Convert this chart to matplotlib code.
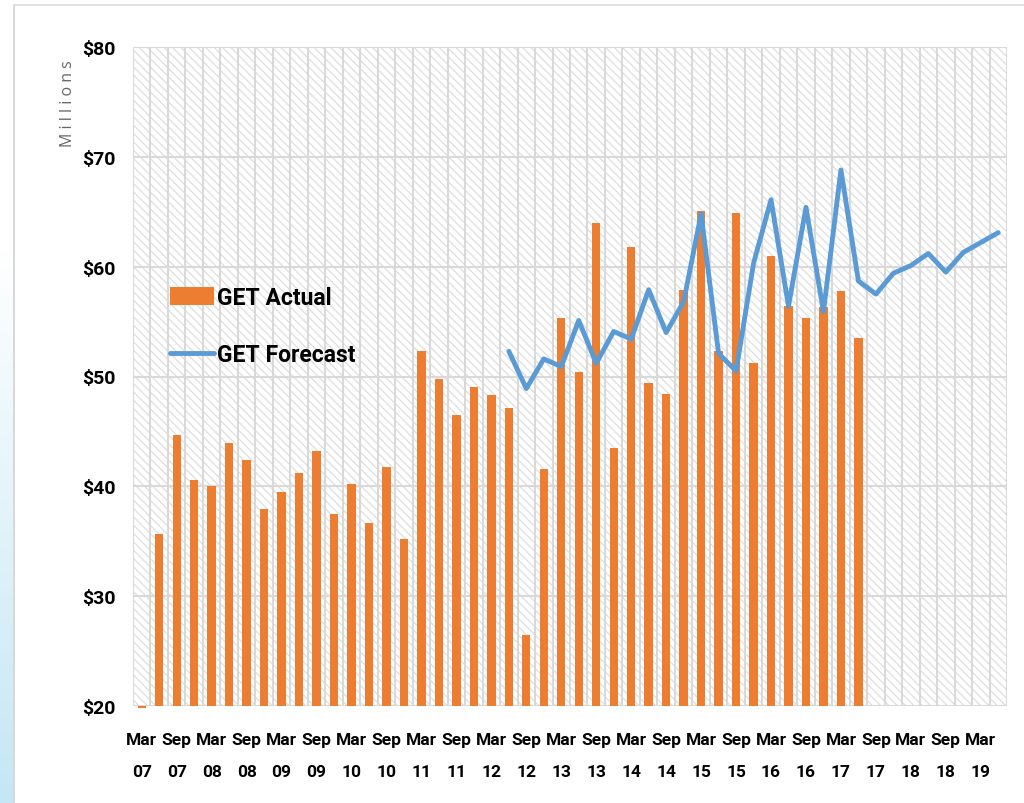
import numpy as np
import matplotlib
matplotlib.use("Agg")
import matplotlib.pyplot as plt
from matplotlib.patches import Rectangle
from matplotlib.lines import Line2D
from matplotlib import font_manager

# ---------------- data ----------------
quarters = ["Mar 07", "Jun 07", "Sep 07", "Dec 07", "Mar 08", "Jun 08", "Sep 08", "Dec 08",
            "Mar 09", "Jun 09", "Sep 09", "Dec 09", "Mar 10", "Jun 10", "Sep 10", "Dec 10",
            "Mar 11", "Jun 11", "Sep 11", "Dec 11", "Mar 12", "Jun 12", "Sep 12", "Dec 12",
            "Mar 13", "Jun 13", "Sep 13", "Dec 13", "Mar 14", "Jun 14", "Sep 14", "Dec 14",
            "Mar 15", "Jun 15", "Sep 15", "Dec 15", "Mar 16", "Jun 16", "Sep 16", "Dec 16",
            "Mar 17", "Jun 17", "Sep 17", "Dec 17", "Mar 18", "Jun 18", "Sep 18", "Dec 18",
            "Mar 19", "Jun 19"]

get_actual = [19.8, 35.7, 44.7, 40.6, 40.0, 43.9, 42.4, 37.9, 39.5, 41.2,
              43.2, 37.5, 40.2, 36.7, 41.8, 35.2, 52.3, 49.8, 46.5, 49.0,
              48.3, 47.1, 26.5, 41.6, 55.3, 50.4, 64.0, 43.5, 61.8, 49.4,
              48.4, 57.9, 65.1, 52.3, 64.9, 51.2, 61.0, 56.4, 55.3, 56.3,
              57.8, 53.5]

forecast_start = 21  # index of "Jun 12"
get_forecast = [52.3, 48.9, 51.6, 50.9, 55.1, 51.2, 54.1, 53.4, 57.9, 54.0,
                56.8, 64.8, 52.1, 50.5, 60.3, 66.1, 56.4, 65.4, 55.9, 68.8,
                58.7, 57.5, 59.4, 60.1, 61.2, 59.5, 61.3, 62.2, 63.1]

y_ticks = [20, 30, 40, 50, 60, 70, 80]

# ---------------- style ----------------
ORANGE = "#ED7D31"
BLUE = "#5B9BD5"
GRID = "#D9D9D9"
installed = {f.name for f in font_manager.fontManager.ttflist}
FONT = [f for f in ["Liberation Sans Narrow", "Roboto", "DejaVu Sans"] if f in installed]
plt.rcParams["font.family"] = FONT
plt.rcParams["hatch.linewidth"] = 0.9

W, H = 1024, 804
fig = plt.figure(figsize=(W / 100, H / 100), dpi=100)
fig.patch.set_facecolor("white")

# left gradient strip and frame
gax = fig.add_axes([0, 0, 13 / W, (H - 250) / H])
grad = np.linspace(0, 1, 256).reshape(-1, 1)
top_c = np.array([1.0, 1.0, 1.0])
bot_c = np.array([196, 231, 244]) / 255
img = top_c[None, None, :] * (1 - grad[:, :, None]) + bot_c[None, None, :] * grad[:, :, None]
gax.imshow(img, aspect="auto", extent=[0, 1, 0, 1], origin="upper")
gax.axis("off")
fig.add_artist(Line2D([13.5 / W, 13.5 / W], [0, 1 - 5.5 / H], transform=fig.transFigure,
                      color="#D4D4D4", lw=1.3))
fig.add_artist(Line2D([13.5 / W, 1], [1 - 5.5 / H, 1 - 5.5 / H], transform=fig.transFigure,
                      color="#DDDDDD", lw=1.3))

# main axes
left, right, top, bottom = 133, 1007, 48, 707
ax = fig.add_axes([left / W, 1 - bottom / H, (right - left) / W, (bottom - top) / H])
ax.set_facecolor("white")
ax.add_patch(Rectangle((0, 0), 1, 1, transform=ax.transAxes, facecolor="white",
                       edgecolor="#DEDEDE", hatch="\\\\\\\\", lw=0, zorder=0.1))

n = len(quarters)
x = np.arange(n)
xa = np.arange(len(get_actual))
base = y_ticks[0]
bars = ax.bar(xa, np.array(get_actual) - base, bottom=base, width=0.48, color=ORANGE,
              zorder=2, label="GET Actual", clip_on=False)
xf = np.arange(forecast_start, forecast_start + len(get_forecast))
line, = ax.plot(xf, get_forecast, color=BLUE, lw=3.5, zorder=3, label="GET Forecast",
                solid_joinstyle="round", solid_capstyle="round")

ax.set_xlim(-0.5, n - 0.5)
ax.set_ylim(y_ticks[0], y_ticks[-1])
ax.set_yticks(y_ticks)
ax.set_yticklabels([f"${v}" for v in y_ticks], fontsize=14, fontweight="bold")
ax.set_xticks(x[::2])
ax.set_xticklabels([q.replace(" ", "\n") for q in quarters[::2]], fontsize=12.5,
                   fontweight="bold", linespacing=2.35)
ax.set_xticks(np.arange(-0.5, n, 1.0), minor=True)
ax.tick_params(axis="both", which="both", length=0)
ax.tick_params(axis="y", pad=12.5)
ax.tick_params(axis="x", pad=19)
ax.grid(which="minor", axis="x", color=GRID, lw=1.5, zorder=0.5)
ax.grid(which="major", axis="y", color=GRID, lw=1.5, zorder=0.5)
ax.grid(which="major", axis="x", visible=False)
ax.set_axisbelow(True)
for s in ax.spines.values():
    s.set_visible(False)

fig.text(68 / W, 1 - 104 / H, "M i l l i o n s", rotation=90, ha="center", va="center",
         fontsize=11.5, color="#666666", family=["Open Sans", "DejaVu Sans"])

leg = ax.legend(handles=[bars, line], loc="upper left",
                bbox_to_anchor=(170 / W, 1 - 287 / H), bbox_transform=fig.transFigure,
                frameon=False, prop={"family": FONT, "weight": "bold", "size": 16.5},
                handlelength=1.9, handleheight=0.8, handletextpad=0.15,
                labelspacing=1.5, borderpad=0, borderaxespad=0)

fig.savefig("out.png", dpi=100)
